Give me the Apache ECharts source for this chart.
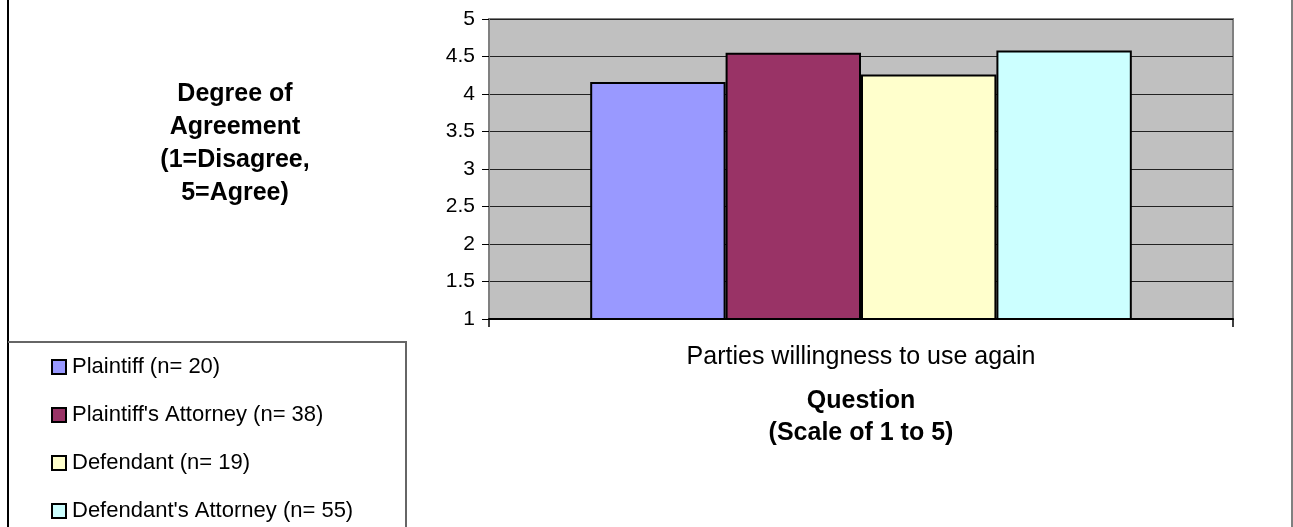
<!DOCTYPE html>
<html>
<head>
<meta charset="utf-8">
<style>
  html, body { margin: 0; padding: 0; background: #fff; }
  #chart { width: 1293px; height: 527px; }
</style>
<script src="https://cdn.jsdelivr.net/npm/echarts@6/dist/echarts.min.js"></script>
</head>
<body>
<div id="chart"></div>
<script>
// Survey question (single category) and respondent groups
const categories = ['Parties willingness to use again'];
const groupNames = [
  'Plaintiff (n= 20)',
  "Plaintiff's Attorney (n= 38)",
  'Defendant (n= 19)',
  "Defendant's Attorney (n= 55)"
];
const plaintiff = [4.16];
const plaintiffAttorney = [4.55];
const defendant = [4.26];
const defendantAttorney = [4.58];
const groupColors = ['#9999FF', '#993366', '#FFFFCC', '#CCFFFF'];
const yTicks = { min: 1, max: 5, step: 0.5 };

const seriesValues = [plaintiff, plaintiffAttorney, defendant, defendantAttorney];
const FONT = 'Liberation Sans, Arial, sans-serif';

const chart = echarts.init(document.getElementById('chart'), null, { renderer: 'canvas' });

chart.setOption({
  backgroundColor: '#ffffff',
  animation: false,
  textStyle: { fontFamily: FONT, color: '#000' },
  title: {
    text: 'Degree of\nAgreement\n(1=Disagree,\n5=Agree)',
    left: 230,
    top: 73,
    textAlign: 'center',
    textStyle: {
      fontFamily: FONT, fontSize: 25, fontWeight: 'bold', color: '#000',
      lineHeight: 33, align: 'center'
    }
  },
  legend: {
    orient: 'vertical',
    left: 51,
    top: 356,
    padding: 0,
    height: 170,
    icon: 'rect',
    itemWidth: 14,
    itemHeight: 14,
    itemGap: 26,
    itemStyle: { borderColor: '#000', borderWidth: 2 },
    textStyle: { fontFamily: FONT, fontSize: 22, color: '#000', lineHeight: 22, padding: [0, 0, 0, 1] },
    data: groupNames
  },
  grid: {
    left: 489,
    top: 19,
    width: 744,
    height: 300,
    show: true,
    backgroundColor: '#C0C0C0',
    borderColor: '#808080',
    borderWidth: 2
  },
  xAxis: {
    type: 'category',
    data: categories,
    axisLine: { lineStyle: { color: '#000', width: 2 } },
    axisTick: { show: true, length: 8, lineStyle: { color: '#000', width: 1.5 } },
    axisLabel: { fontFamily: FONT, fontSize: 25, color: '#000', margin: 26 },
    name: 'Question\n(Scale of 1 to 5)',
    nameLocation: 'middle',
    nameGap: 66,
    nameTextStyle: { fontFamily: FONT, fontSize: 25, fontWeight: 'bold', color: '#000', lineHeight: 32, align: 'center' }
  },
  yAxis: {
    type: 'value',
    min: yTicks.min,
    max: yTicks.max,
    interval: yTicks.step,
    axisLine: { show: true, lineStyle: { color: '#808080', width: 2 } },
    axisTick: { show: true, length: 7, lineStyle: { color: '#000', width: 1 } },
    axisLabel: { fontFamily: FONT, fontSize: 21, color: '#000', margin: 14 },
    splitLine: { show: true, lineStyle: { color: '#222', width: 1 } }
  },
  series: groupNames.map((name, i) => ({
    name: name,
    type: 'bar',
    data: seriesValues[i],
    barGap: '0%',
    barCategoryGap: '27.2%',
    itemStyle: { color: groupColors[i], borderColor: '#000', borderWidth: 2 }
  })),
  graphic: [
    // outer frame lines
    { type: 'line', shape: { x1: 8, y1: 0, x2: 8, y2: 527 }, style: { stroke: '#000', lineWidth: 2 }, z: 100 },
    { type: 'line', shape: { x1: 1292, y1: 0, x2: 1292, y2: 527 }, style: { stroke: '#808080', lineWidth: 2 }, z: 100 },
    // legend box
    { type: 'polyline', shape: { points: [[8, 342], [406, 342], [406, 527]] }, style: { stroke: '#666', lineWidth: 2, fill: null }, z: 100 }
  ]
});
</script>
</body>
</html>
